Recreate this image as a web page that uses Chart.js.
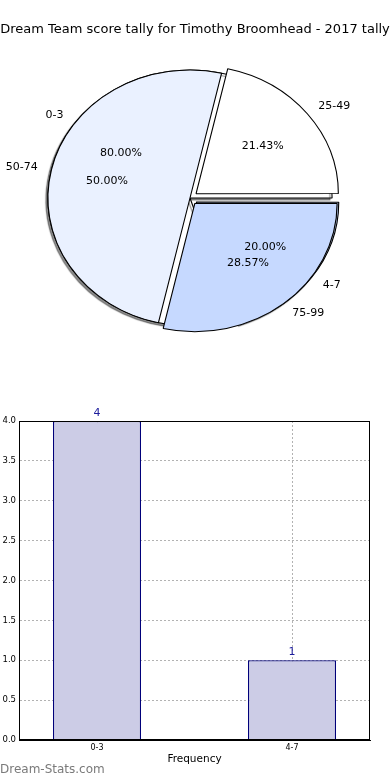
<!DOCTYPE html>
<html>
<head>
<meta charset="utf-8">
<script src="https://cdn.jsdelivr.net/npm/chart.js@4.4.1/dist/chart.umd.min.js"></script>
<style>
  body { margin: 0; background: #fff; width: 390px; height: 780px; overflow: hidden; position: relative; }
  canvas { position: absolute; left: 0; }
  #watermark { position: absolute; left: 0; top: 762px; font: 12px "DejaVu Sans"; color: #7a7a7a; }
</style>
</head>
<body>
<canvas id="pie-under" style="top:0" width="390" height="396"></canvas>
<canvas id="pie-over" style="top:0" width="390" height="396"></canvas>
<canvas id="bars" style="top:400px" width="390" height="368"></canvas>
<div id="watermark">Dream-Stats.com</div>
<script>
// data
const titleText = 'Dream Team score tally for Timothy Broomhead - 2017 tally';
const rangeLabels = ['0-3', '4-7'];
const rangeCounts = [4, 1];
const bandLabels = ['25-49', '50-74', '75-99'];
const bandCounts = [3, 7, 4];
const yTicks = [0, 0.5, 1, 1.5, 2, 2.5, 3, 3.5, 4];

// styles
const rangeColors = ['#ffffff', '#c6d9ff'];
const rangeExplode = [0, 28];
const bandColors = ['#ffffff', '#eaf1ff', '#c6d9ff'];
const bandExplode = [28, 0, 28];
const SX = 1.11; // pie is drawn squashed like the original axes

Chart.defaults.font.family = '"DejaVu Sans"';
Chart.defaults.color = '#000';

// chart.js runs clockwise, matplotlib counter-clockwise from 3 o'clock
const rev = a => a.slice().reverse();

function squash(shadow) {
    return {
        id: 'squash',
        beforeDatasetsDraw(chart) {
            const ctx = chart.ctx;
            const arc = chart.getDatasetMeta(0).data[0];
            ctx.save();
            ctx.translate(arc.x, arc.y);
            ctx.scale(SX, 1);
            ctx.translate(-arc.x, -arc.y);
            if (shadow) {
                ctx.shadowColor = 'rgba(0,0,0,0.45)';
                ctx.shadowOffsetX = -2;
                ctx.shadowOffsetY = 2;
                ctx.shadowBlur = 1;
            }
        },
        afterDatasetsDraw(chart) {
            chart.ctx.restore();
        }
    };
}

function drawPieLabels(ctx, chart) {
    const meta = chart.getDatasetMeta(0);
    const values = chart.data.datasets[0].data;
    const total = values.reduce((a, b) => a + b, 0);
    meta.data.forEach((arc, i) => {
        const mid = (arc.startAngle + arc.endAngle) / 2;
        const shift = (arc.options.offset || 0) / 4;
        const at = f => ({
            x: arc.x + SX * (f * arc.outerRadius + shift) * Math.cos(mid),
            y: arc.y + (f * arc.outerRadius + shift) * Math.sin(mid)
        });
        const p = at(0.6);
        ctx.textAlign = 'center';
        ctx.fillText((values[i] / total * 100).toFixed(2) + '%', p.x, p.y);
        const q = at(1.1);
        ctx.textAlign = Math.cos(mid) >= 0 ? 'left' : 'right';
        ctx.fillText(chart.data.labels[i], q.x, q.y);
    });
}

function pieConfig(labels, counts, colors, explode, plugins) {
    return {
        type: 'pie',
        data: {
            labels: rev(labels),
            datasets: [{
                data: rev(counts),
                backgroundColor: rev(colors),
                offset: rev(explode),
                borderColor: '#000',
                borderWidth: 1,
                clip: false
            }]
        },
        options: {
            responsive: false,
            animation: false,
            rotation: 90,
            radius: 128,
            layout: { padding: { right: 10 } },
            events: [],
            plugins: { legend: { display: false }, tooltip: { enabled: false } }
        },
        plugins: plugins
    };
}

const underPie = new Chart(document.getElementById('pie-under'),
    pieConfig(rangeLabels, rangeCounts, rangeColors, rangeExplode, [squash(true)]));

const pieText = {
    id: 'pieText',
    afterDraw(chart) {
        const ctx = chart.ctx;
        ctx.save();
        ctx.fillStyle = '#000';
        ctx.textBaseline = 'middle';
        ctx.font = '13px "DejaVu Sans"';
        ctx.textAlign = 'center';
        ctx.fillText(titleText, 195, 30);
        ctx.font = '11px "DejaVu Sans"';
        drawPieLabels(ctx, underPie);
        drawPieLabels(ctx, chart);
        ctx.restore();
    }
};

new Chart(document.getElementById('pie-over'),
    pieConfig(bandLabels, bandCounts, bandColors, bandExplode, [squash(false), pieText]));

const frame = {
    id: 'frame',
    afterDraw(chart) {
        const { ctx, chartArea: a } = chart;
        ctx.save();
        ctx.strokeStyle = '#000';
        ctx.lineWidth = 1;
        ctx.strokeRect(Math.round(a.left) + 0.5, Math.round(a.top) + 0.5,
            Math.round(a.right - a.left) - 1, Math.round(a.bottom - a.top) - 1);
        ctx.restore();
    }
};

const barValues = {
    id: 'barValues',
    afterDatasetsDraw(chart) {
        const ctx = chart.ctx;
        ctx.save();
        ctx.fillStyle = '#1c1c9c';
        ctx.font = '11px "DejaVu Sans"';
        ctx.textAlign = 'center';
        chart.getDatasetMeta(0).data.forEach((bar, i) => {
            ctx.fillText(String(rangeCounts[i]), bar.x, bar.y - 5);
        });
        ctx.restore();
    }
};

const gridStyle = { color: 'rgba(0,0,0,0.3)', drawTicks: false, offset: false };

new Chart(document.getElementById('bars'), {
    type: 'bar',
    data: {
        datasets: [{
            data: rangeCounts.map((v, i) => ({ x: i, y: v })),
            backgroundColor: '#cccce6',
            borderColor: '#00007a',
            borderWidth: 1.3,
            barPercentage: 0.4513,
            categoryPercentage: 1
        }]
    },
    options: {
        responsive: false,
        animation: false,
        events: [],
        layout: { padding: { top: 21, right: 20, left: 0, bottom: 0 } },
        plugins: { legend: { display: false }, tooltip: { enabled: false } },
        scales: {
            x: {
                type: 'linear',
                min: -0.4,
                max: 1.4,
                offset: false,
                afterBuildTicks: s => { s.ticks = rangeLabels.map((_, i) => ({ value: i })); },
                afterFit: s => { s.height = 28; },
                ticks: { callback: v => rangeLabels[v], font: { size: 8 }, padding: 3, autoSkip: false, maxRotation: 0 },
                grid: gridStyle,
                border: { color: '#000', dash: [2, 2] },
                title: { display: true, text: 'Frequency', font: { size: 10.5 }, padding: { top: 0, bottom: 2 } }
            },
            y: {
                min: 0,
                max: 4,
                afterBuildTicks: s => { s.ticks = yTicks.map(v => ({ value: v })); },
                afterFit: s => { s.width = 19; },
                ticks: { callback: v => v.toFixed(1), font: { size: 8.5 }, padding: 3 },
                grid: gridStyle,
                border: { color: '#000', dash: [2, 2] }
            }
        }
    },
    plugins: [frame, barValues]
});
</script>
</body>
</html>
